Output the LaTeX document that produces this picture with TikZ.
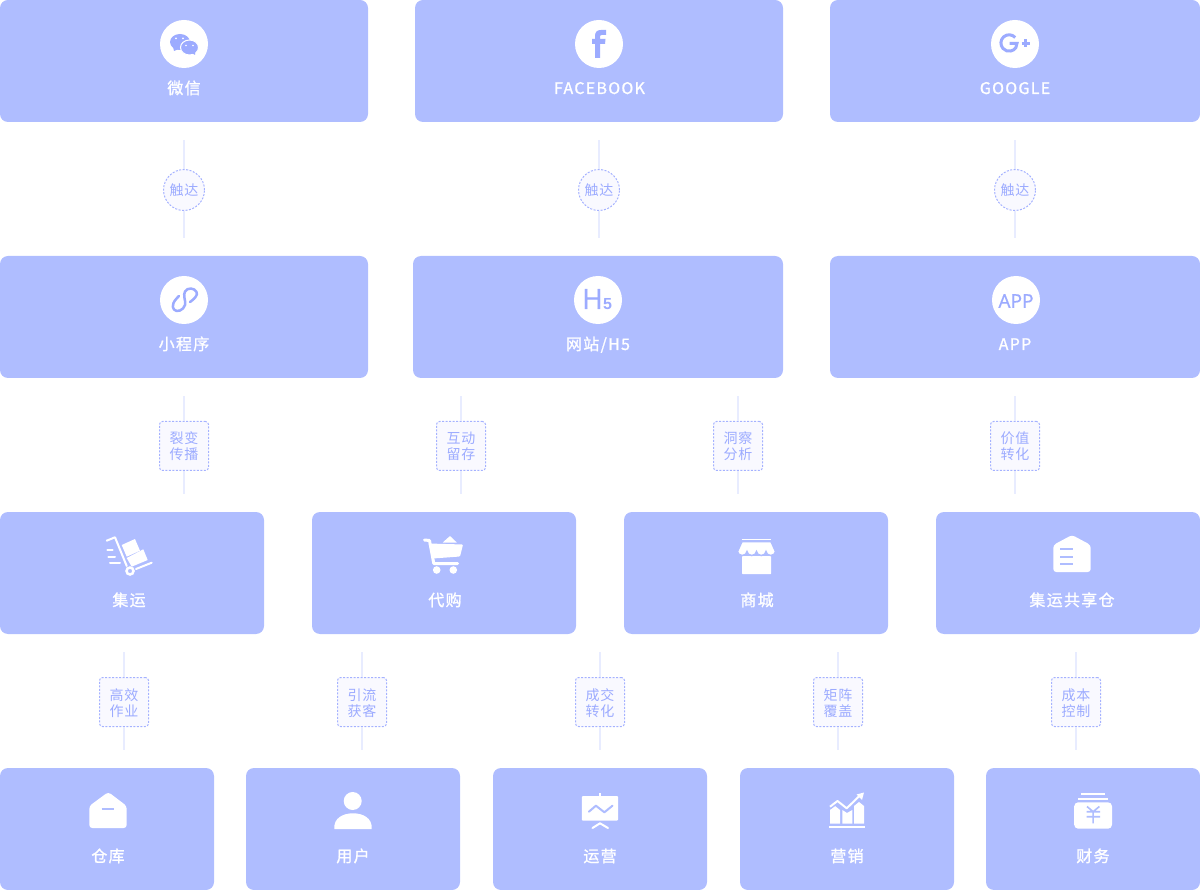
\documentclass[tikz,border=0pt]{standalone}
\usepackage{fontspec}
\setmainfont{Noto Sans CJK SC}
\newfontfamily\titlefont[LetterSpace=8,FakeBold=1.1]{Noto Sans CJK SC}
\newfontfamily\tagtextfont[LetterSpace=7]{Noto Sans CJK SC}
\newfontfamily\badgefont[FakeBold=.2]{Noto Sans}
\newfontfamily\fivefont{Liberation Sans}
\definecolor{panelblue}{HTML}{AFBDFF}
\definecolor{iconblue}{HTML}{9CABFF}
\definecolor{stubblue}{HTML}{E8ECFF}
\definecolor{tagblue}{HTML}{A5B2FF}
\definecolor{tagfill}{HTML}{F9F9FF}
\def \rowHeight {122}
\tikzset{
  panel/.style={fill=panelblue, rounded corners=8pt, inner sep=0pt, minimum height=\rowHeight pt},
  paneltitle/.style={text=white, font=\titlefont\fontsize{16}{16}\selectfont, inner sep=0pt, text height=12pt, text depth=0pt},
  badge/.style={circle, fill=white, inner sep=0pt, minimum size=48pt},
  stubline/.style={draw=stubblue, line width=2pt},
  roundtag/.style={circle, fill=tagfill, draw=tagblue, line width=1pt, dash pattern=on 2pt off 1.5pt, minimum size=41pt, inner sep=0pt, text=iconblue, text height=10.5pt, text depth=0pt, font=\tagtextfont\fontsize{14}{16}\selectfont},
  squaretag/.style={rectangle, rounded corners=3pt, fill=tagfill, draw=tagblue, line width=1pt, dash pattern=on 2pt off 1.5pt, minimum size=49pt, inner sep=0pt, text=iconblue, align=center, text height=30pt, text depth=2pt, font=\tagtextfont\fontsize{14}{16}\selectfont},
  iconline/.style={draw=white, line width=2pt},
  markline/.style={draw=iconblue, line width=2.5pt, line cap=round, line join=round},
  gapline/.style={draw=panelblue, line width=2pt},
}
% name, x, y of the tag: a stub above and below it
\def \stubUp #1#2#3{\coordinate (#1up) at (#2,#3-50); \coordinate (#1down) at (#2,#3+48);
  \draw[stubline] (#1up) -- (#1); \draw[stubline] (#1) -- (#1down);}
\begin{document}
\begin{tikzpicture}[x=1pt, y=-1pt]
         \useasboundingbox (0,0) rectangle (1200,890);

         % panels
         \node[panel, minimum width=368pt] (wechat) at (184,61) {};
         \node[panel, minimum width=368pt] (facebook) at (599,61) {};
         \node[panel, minimum width=370pt] (google) at (1015,61) {};
         \node[panel, minimum width=368pt] (miniapp) at (184,317) {};
         \node[panel, minimum width=370pt] (website) at (598,317) {};
         \node[panel, minimum width=370pt] (appbox) at (1015,317) {};
         \node[panel, minimum width=264pt] (consol) at (132,573) {};
         \node[panel, minimum width=264pt] (proxy) at (444,573) {};
         \node[panel, minimum width=264pt] (mall) at (756,573) {};
         \node[panel, minimum width=264pt] (shared) at (1068,573) {};
         \node[panel, minimum width=214pt] (depot) at (107,829) {};
         \node[panel, minimum width=214pt] (users) at (353,829) {};
         \node[panel, minimum width=214pt] (operate) at (600,829) {};
         \node[panel, minimum width=214pt] (market) at (847,829) {};
         \node[panel, minimum width=214pt] (finance) at (1093,829) {};

         % titles
         \node[paneltitle] (wechatT) at (184,88) {微信};
         \node[paneltitle] (facebookT) at (599.5,88) {FACEBOOK};
         \node[paneltitle] (googleT) at (1015,88) {GOOGLE};
         \node[paneltitle] (miniappT) at (184,344) {小程序};
         \node[paneltitle] (websiteT) at (598,344) {网站/H5};
         \node[paneltitle] (appT) at (1015,344) {APP};
         \node[paneltitle] (consolT) at (129,600) {集运};
         \node[paneltitle] (proxyT) at (445,600) {代购};
         \node[paneltitle] (mallT) at (757,600) {商城};
         \node[paneltitle] (sharedT) at (1072,600) {集运共享仓};
         \node[paneltitle] (depotT) at (108,856) {仓库};
         \node[paneltitle] (usersT) at (353,856) {用户};
         \node[paneltitle] (operateT) at (600,856) {运营};
         \node[paneltitle] (marketT) at (847,856) {营销};
         \node[paneltitle] (financeT) at (1093,856) {财务};

         % tags and their stubs
         \node[roundtag] (reachA) at (184,190) {触达}; \stubUp{reachA}{184}{190}
         \node[roundtag] (reachB) at (599,190) {触达}; \stubUp{reachB}{599}{190}
         \node[roundtag] (reachC) at (1015,190) {触达}; \stubUp{reachC}{1015}{190}
         \node[squaretag] (spread) at (184,446) {裂变\\传播}; \stubUp{spread}{184}{446}
         \node[squaretag] (retain) at (461,446) {互动\\留存}; \stubUp{retain}{461}{446}
         \node[squaretag] (insight) at (738,446) {洞察\\分析}; \stubUp{insight}{738}{446}
         \node[squaretag] (convert) at (1015,446) {价值\\转化}; \stubUp{convert}{1015}{446}
         \node[squaretag] (efficient) at (124,702) {高效\\作业}; \stubUp{efficient}{124}{702}
         \node[squaretag] (traffic) at (362,702) {引流\\获客}; \stubUp{traffic}{362}{702}
         \node[squaretag] (deal) at (600,702) {成交\\转化}; \stubUp{deal}{600}{702}
         \node[squaretag] (matrix) at (838,702) {矩阵\\覆盖}; \stubUp{matrix}{838}{702}
         \node[squaretag] (cost) at (1076,702) {成本\\控制}; \stubUp{cost}{1076}{702}

         % round badges
         \node[badge] (wechatB) at (184,44) {};
         \node[badge] (facebookB) at (599,44) {};
         \node[badge] (googleB) at (1015,44) {};
         \node[badge] (miniappB) at (184,300) {};
         \node[badge] (websiteB) at (598,300) {};
         \node[badge] (appB) at (1016,300) {};

         % wechat
         \fill[iconblue] (180,42) ellipse (10 and 8);
         \fill[iconblue] (173,47) -- (174,51) -- (179,49) -- cycle;
         \filldraw[fill=iconblue, draw=white, line width=1pt] (189.5,47.5) ellipse (9 and 7.5);
         \fill[iconblue] (192,53) -- (195,55) -- (195,51) -- cycle;
         \fill[white] (176,38.5) circle (1) (183,38.5) circle (1) (186,45.5) circle (.9) (193,45.5) circle (.9);

         % f
         \fill[iconblue] (595,58) -- (600,58) -- (600,44) -- (605,44) -- (605.5,39) -- (600,39) -- (600,36.5)
           .. controls (600,35.3) and (600.8,35) .. (602,35) -- (606,35) -- (606,30) -- (601,30)
           .. controls (597,30) and (595,32) .. (595,36) -- (595,39) -- (592,39) -- (592,44) -- (595,44) -- cycle;

         % g+
         \draw[iconblue, line width=3pt] (1015.2,37.5) arc (-42:-325:8.2) -- (1017,43.3) -- (1009.5,43.3);
         \draw[iconblue, line width=2.5pt] (1021.5,43.5) -- (1030,43.5) (1025.7,39.5) -- (1025.7,47.5);

         % link
         \draw[markline] plot[smooth, tension=.8] coordinates {(179,296) (173.5,303) (174,309.5) (180,310.5) (185,305) (184.5,298) (185,291.5) (191,288.5) (196.5,292) (195.5,297) (190,302)};

         % h5 and app
         \node[inner sep=0pt, text=iconblue, font=\badgefont\fontsize{28}{28}\selectfont] (hLetter) at (592.5,299) {H};
         \node[inner sep=0pt, text=iconblue, font=\fivefont\bfseries\fontsize{16}{16}\selectfont] (fiveLetter) at (607.5,304.5) {5};
         \node[inner sep=0pt, text=iconblue, font=\badgefont\fontsize{19}{19}\selectfont] (appLetters) at (1016,301) {APP};

         % trolley
         \draw[iconline, line cap=round, line join=round] (106.7,540.7) -- (115,537.3) -- (126.7,566);
         \draw[iconline, line cap=round] (136,569) -- (151.7,562.7);
         \draw[iconline, line cap=round] (107.3,550) -- (112.7,550) (108.3,556.7) -- (115,556.7) (110,563.3) -- (120,563.3);
         \fill[white] (121.7,545) -- (135,539) -- (140,550.7) -- (126.7,556.7) -- cycle;
         \fill[white] (126.7,558) -- (143.3,549.3) -- (147.7,560) -- (131.7,566.7) -- cycle;
         \draw[white, line width=2.5pt] (130,571) circle (3.5);

         % cart
         \draw[white, line width=3pt, line cap=round, line join=round] (424.5,540) -- (429.5,540.5) -- (433.5,562) -- (433.8,563.5) -- (457.5,563.5);
         \fill[white, rounded corners=1pt] (428.5,543.5) -- (463,544.5) -- (460,556.5) -- (433,558.5) -- cycle;
         \fill[white] (436.7,570) circle (3.8) (453.3,570) circle (3.8);
         \fill[white, rounded corners=.5pt] (442.5,542.7) -- (450,536) -- (457,542.7) -- cycle;

         % store
         \draw[white, line width=1.5pt] (741.7,539.3) -- (770.7,539.3);
         \fill[white, rounded corners=.5pt] (742,556) rectangle (771,574);
         \filldraw[fill=white, draw=panelblue, line width=1.5pt] (742,541.5) -- (771,541.5) -- (775.5,551.5)
           arc (0:180:4.75 and 4) arc (0:180:4.75 and 4) arc (0:180:4.75 and 4) arc (0:180:4.75 and 4) -- cycle;

         % shared warehouse
         \fill[white, rounded corners=3pt] (1053.3,545) -- (1072,535) -- (1090.7,545) -- (1090.7,572) -- (1053.3,572) -- cycle;
         \draw[gapline] (1060,549.3) -- (1072.7,549.3) (1060,556.7) -- (1072.7,556.7) (1060,564.3) -- (1072.7,564.3);

         % warehouse
         \fill[white, rounded corners=3pt] (89.3,806) -- (108.3,792) -- (126.7,806) -- (126.7,828) -- (89.3,828) -- cycle;
         \draw[gapline] (101.7,809) -- (114.3,809);

         % user
         \fill[white] (352.7,801) circle (9);
         \fill[white] (334.3,829) .. controls (333.5,818) and (343,813.3) .. (353,813.3) .. controls (363,813.3) and (372.5,818) .. (371.7,829) -- cycle;

         % board
         \fill[white, rounded corners=1pt] (581.8,796) rectangle (618,820.7);
         \draw[iconline] (600,793) -- (600,797);
         \draw[iconline, line cap=round, line join=round] (592.5,828) -- (600,823.3) -- (608,828);
         \draw[gapline, line join=round, line cap=round] (588.9,811.7) -- (595.9,805.7) -- (604.4,812.3) -- (612.5,805.7);

         % chart
         \fill[white] (830,823.7) -- (830,810) -- (835,806) -- (840,810) -- (840,823.7) -- cycle;
         \fill[white] (842.3,823.7) -- (842.3,810) -- (847,813) -- (852.3,810) -- (852.3,823.7) -- cycle;
         \fill[white] (854,823.7) -- (854,806) -- (859,802) -- (864,806) -- (864,823.7) -- cycle;
         \draw[panelblue, line width=5pt, line join=round] (830,806.7) -- (837.5,801) -- (846.7,808.3) -- (860.4,795);
         \draw[iconline, line join=round] (830,806.7) -- (837.5,801) -- (846.7,808.3) -- (860.4,795);
         \fill[white] (864,792.5) -- (856.5,794.5) -- (862,800) -- cycle;
         \draw[iconline] (829,827) -- (865.2,827);

         % jar
         \fill[white, rounded corners=4pt] (1074.2,802.3) rectangle (1112,828.7);
         \draw[iconline] (1081,794.3) -- (1105,794.3) (1078,799) -- (1108,799);
         \draw[gapline, line width=1.6pt] (1087,806.5) -- (1093.1,811.7) -- (1099.4,806.5) (1086.5,811.7) -- (1100,811.7) (1086.5,816.7) -- (1100,816.7) (1093.1,811.7) -- (1093.1,823.3);
      \end{tikzpicture}
\end{document}
